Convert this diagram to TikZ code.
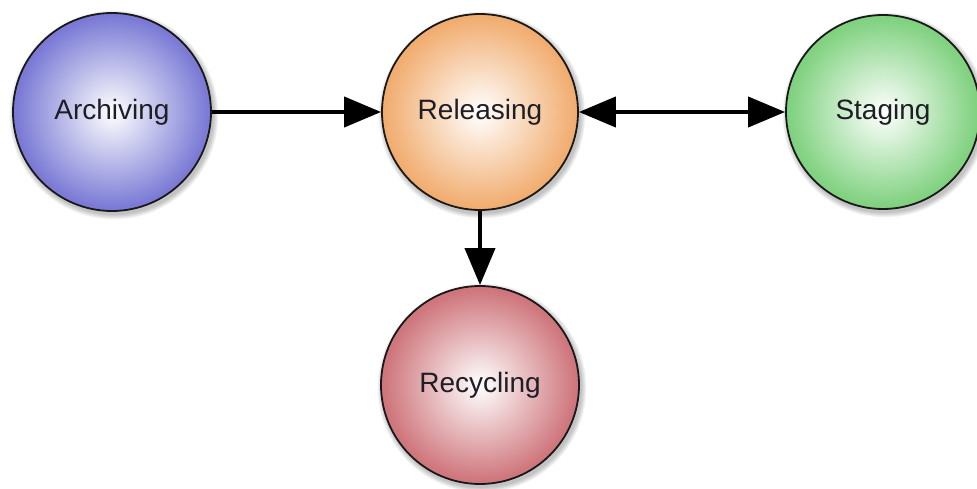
\documentclass[tikz,border=0pt]{standalone}
\usepackage{fontspec}
\setmainfont{Liberation Sans}
\usetikzlibrary{arrows.meta,backgrounds}

\definecolor{archedge}{RGB}{72,72,198}
\definecolor{reledge}{RGB}{236,142,58}
\definecolor{stageedge}{RGB}{80,192,80}
\definecolor{recyedge}{RGB}{188,66,74}
\definecolor{labeltext}{RGB}{30,30,38}

% glossy radial fills: white core fading to the full colour at the rim
\pgfdeclareradialshading{archball}{\pgfpoint{0bp}{0bp}}{color(0bp)=(white); color(4bp)=(archedge!12!white); color(24bp)=(archedge!72!white); color(50bp)=(archedge)}
\pgfdeclareradialshading{relball}{\pgfpoint{0bp}{0bp}}{color(0bp)=(white); color(4bp)=(reledge!12!white); color(24bp)=(reledge!72!white); color(50bp)=(reledge)}
\pgfdeclareradialshading{stageball}{\pgfpoint{0bp}{0bp}}{color(0bp)=(white); color(4bp)=(stageedge!12!white); color(24bp)=(stageedge!72!white); color(50bp)=(stageedge)}
\pgfdeclareradialshading{recyball}{\pgfpoint{0bp}{0bp}}{color(0bp)=(white); color(4bp)=(recyedge!12!white); color(24bp)=(recyedge!72!white); color(50bp)=(recyedge)}

\tikzset{
  stagecircle/.style={circle, draw=black!90, line width=1.8pt, inner sep=0pt,
    font=\fontsize{28}{32}\selectfont, text=labeltext},
  flow/.style={line width=4pt, -{Triangle[length=37pt,width=30pt]}},
  twoway/.style={line width=4pt, {Triangle[length=37pt,width=30pt]}-{Triangle[length=37pt,width=30pt]}},
}

% soft shadow below and right of a circle
\newcommand\ballshadow[2]{%
  \foreach \k in {1,...,6}{
    \fill[black, opacity=0.045] ([shift={(2pt,-3pt)}]#1.center) circle ({#2+\k*0.9pt});
  }}

\begin{document}
\begin{tikzpicture}[x=1pt,y=-1pt]
  \useasboundingbox (0,0) rectangle (977,489);

  \node[stagecircle, minimum size=198pt, shading=archball]  (arch)  at (112,112) {Archiving};
  \node[stagecircle, minimum size=196pt, shading=relball]   (rel)   at (480,112) {Releasing};
  \node[stagecircle, minimum size=194pt, shading=stageball] (stage) at (883,112) {Staging};
  \node[stagecircle, minimum size=198pt, shading=recyball]  (recy)  at (480,385) {Recycling};

  \begin{pgfonlayer}{background}
    \ballshadow{arch}{99pt}
    \ballshadow{rel}{98pt}
    \ballshadow{stage}{97pt}
    \ballshadow{recy}{99pt}
  \end{pgfonlayer}

  \draw[flow] (arch) -- (rel);
  \draw[twoway] (rel) -- (stage);
  \draw[flow] (rel) -- (recy);
\end{tikzpicture}
\end{document}
